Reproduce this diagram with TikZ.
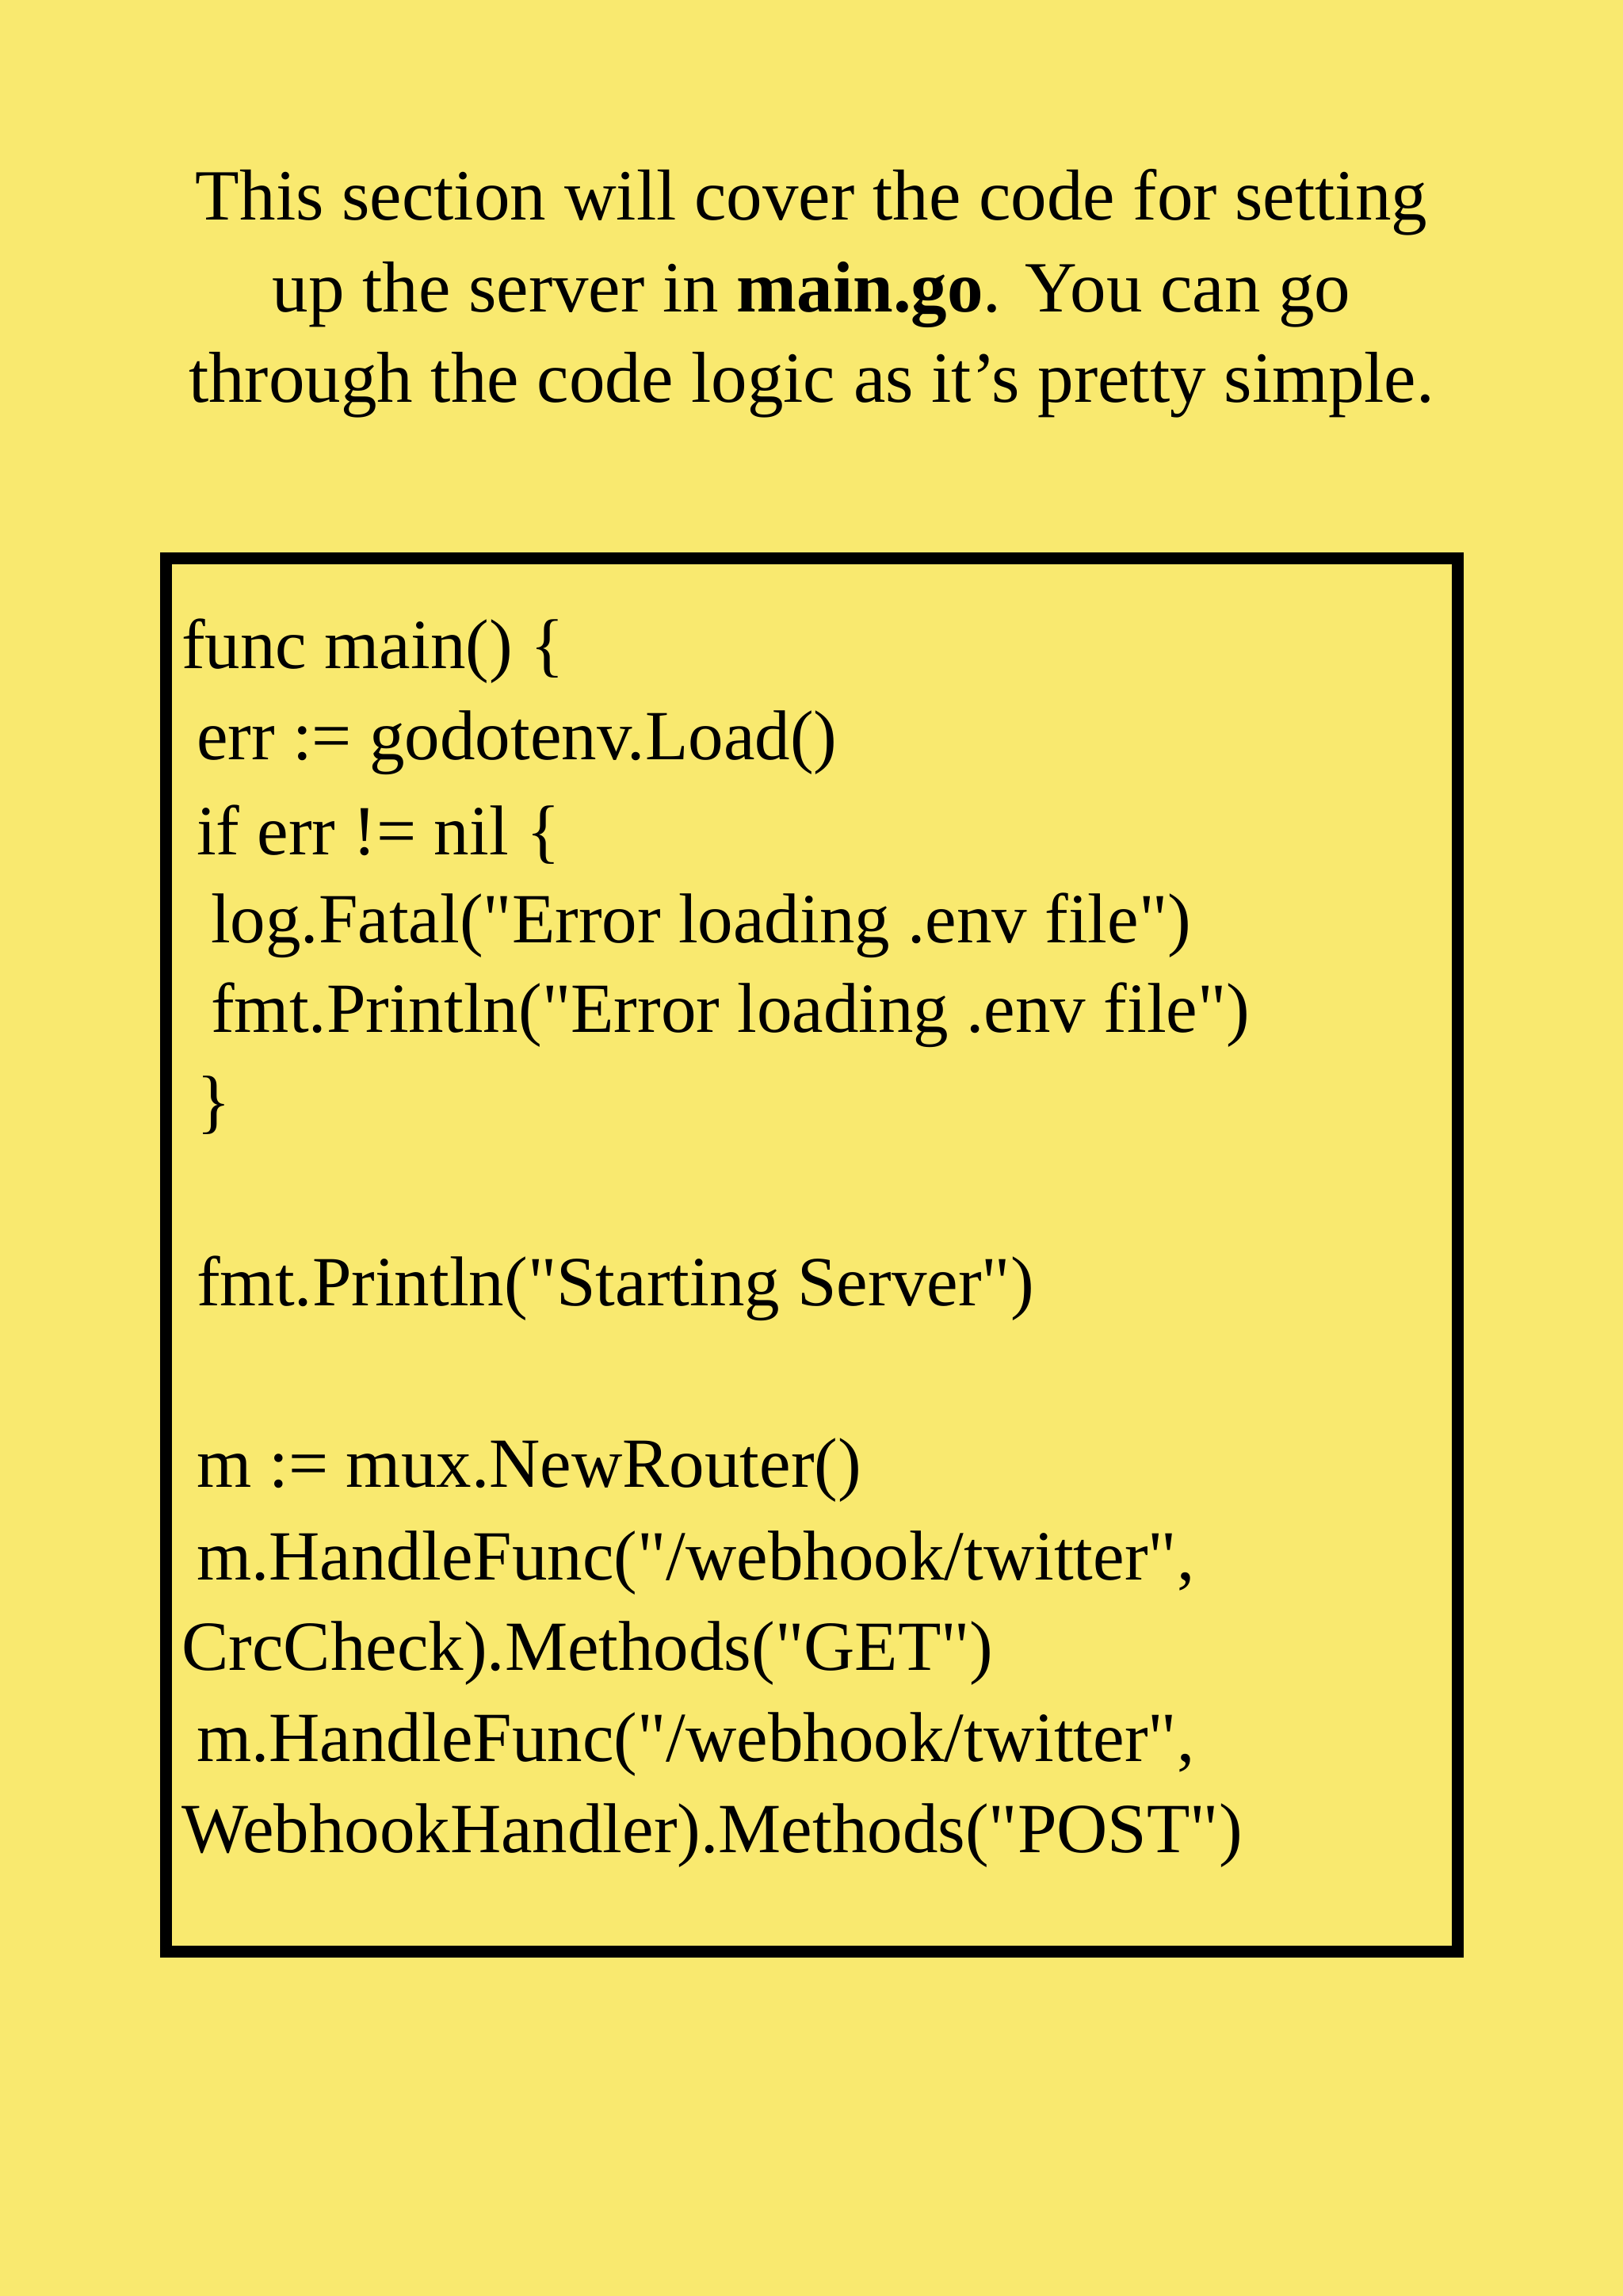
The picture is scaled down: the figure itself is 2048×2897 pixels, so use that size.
\documentclass[tikz,border=0pt]{standalone}
\usepackage{fontspec}
\setmainfont{Liberation Serif}
\newfontfamily\codefont[Ligatures=ResetAll]{Liberation Serif}
\definecolor{bg}{HTML}{F9E96F}
\begin{document}
\begin{tikzpicture}[x=1pt,y=-1pt,
  title/.style={anchor=center,inner sep=0pt,font=\fontsize{91}{100}\selectfont},
  code/.style={anchor=west,inner sep=0pt,font=\codefont\fontsize{89}{100}\selectfont}]
\fill[bg] (0,0) rectangle (2048,2897);
\useasboundingbox (0,0) rectangle (2048,2897);
\node[title] (t1) at (1024,255) {This section will cover the code for setting};
\node[title] (t2) at (1024,372) {up the server in \textbf{main.go}. You can go};
\node[title] (t3) at (1024,486) {through the code logic as it’s pretty simple.};
\draw[line width=15pt] (209,704) rectangle (1839,2462);
\node[code] (c1) at (229,822) {func main() \{};
\node[code] (c2) at (248,937) {err := godotenv.Load()};
\node[code] (c3) at (248,1053) {if err != nil \{};
\node[code] (c4) at (266,1168) {log.Fatal("Error loading .env file")};
\node[code] (c5) at (266,1281) {fmt.Println("Error loading .env file")};
\node[code] (c6) at (248,1395) {\}};
\node[code] (c7) at (248,1626) {fmt.Println("Starting Server")};
\node[code] (c8) at (248,1855) {m := mux.NewRouter()};
\node[code] (c9) at (248,1972) {m.HandleFunc("/webhook/twitter",};
\node[code] (c10) at (229,2086) {CrcCheck).Methods("GET")};
\node[code] (c11) at (248,2201) {m.HandleFunc("/webhook/twitter",};
\node[code] (c12) at (229,2316) {WebhookHandler).Methods("POST")};
\end{tikzpicture}
\end{document}
